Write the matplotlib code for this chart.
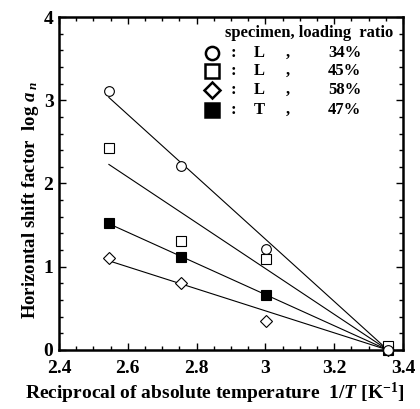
import numpy as np
import matplotlib
matplotlib.use('Agg')
import matplotlib.pyplot as plt
from matplotlib.ticker import MultipleLocator

plt.rcParams['font.family'] = 'Liberation Serif'
plt.rcParams['font.weight'] = 'bold'
plt.rcParams['mathtext.fontset'] = 'custom'
plt.rcParams['mathtext.rm'] = 'Liberation Serif:bold'
plt.rcParams['mathtext.it'] = 'Liberation Serif:italic:bold'
plt.rcParams['mathtext.bf'] = 'Liberation Serif:bold'

# 1/T [1e-3 K^-1] for 120, 90, 60, 25 degC
inv_T = [2.545, 2.755, 3.003, 3.356]
x_ref = 3.356

shift_L34 = [3.11, 2.21, 1.21, 0.0]
shift_L45 = [2.43, 1.31, 1.09, 0.05]
shift_L58 = [1.11, 0.81, 0.35, 0.0]
shift_T47 = [1.52, 1.12, 0.66, 0.0]

series = [
    (shift_L34, 'o', 'white', 'L', '34%'),
    (shift_L45, 's', 'white', 'L', '45%'),
    (shift_L58, 'D', 'white', 'L', '58%'),
    (shift_T47, 's', 'black', 'T', '47%'),
]

fig = plt.figure(figsize=(4.2, 4.09), dpi=100)
ax = fig.add_axes([0.1405, 0.1443, 0.819, 0.8141])

x = np.array(inv_T)
x_line = np.array([inv_T[0], 3.37])
# reversed so the open circle ends up on top at the reference point
for i, (y, mk, fc, spec, ratio) in enumerate(reversed(series)):
    y = np.array(y)
    # straight line through the reference point (x_ref, 0)
    dx = x - x_ref
    slope = np.sum(dx * y) / np.sum(dx * dx)
    ax.plot(x_line, slope * (x_line - x_ref), color='black', lw=0.8, zorder=2)
    ms = 6 if mk == 'D' else 7
    ax.plot(x, y, linestyle='none', marker=mk, ms=ms, mfc=fc, mec='black',
            mew=0.8, zorder=3 + i, clip_on=False)

ax.set_xlim(2.4, 3.4)
ax.set_ylim(0, 4)
ax.xaxis.set_major_locator(MultipleLocator(0.2))
ax.xaxis.set_minor_locator(MultipleLocator(0.05))
ax.yaxis.set_major_locator(MultipleLocator(1))
ax.yaxis.set_minor_locator(MultipleLocator(0.2))
ax.set_xticks([2.4, 2.6, 2.8, 3.0, 3.2, 3.4], ['2.4', '2.6', '2.8', '3', '3.2', '3.4'])
ax.tick_params(which='both', direction='in', top=True, right=True, width=1)
ax.tick_params(which='major', length=5, labelsize=14)
ax.tick_params(axis='x', which='major', pad=7)
ax.tick_params(axis='y', which='major', pad=4)
ax.tick_params(which='minor', length=3)
for s in ax.spines.values():
    s.set_linewidth(1.8)

ax.set_xlabel(r'Reciprocal of absolute temperature  1/$T$ [K$^{\mathbf{-1}}$]',
              fontsize=14, fontweight='bold', labelpad=3)
ax.set_ylabel(r'Horizontal shift factor  log $a_{\ n}$', fontsize=13.5,
              fontweight='bold', labelpad=2)
ax.xaxis.label.set_x(0.453)
ax.yaxis.label.set_y(0.45)

# legend block
ax.text(0.971, 0.952, 'specimen, loading  ratio', transform=ax.transAxes,
        ha='right', va='center', fontsize=12, fontweight='bold')
rows_y = [0.892, 0.838, 0.781, 0.721]
for (y, mk, fc, spec, ratio), ry in zip(series, rows_y):
    ms = 8 if mk == 'D' else 9.5
    ax.plot([0.445], [ry], transform=ax.transAxes, marker=mk, ms=ms, mfc=fc,
            mec='black', mew=1.8, linestyle='none')
    ax.text(0.506, ry, ':', transform=ax.transAxes, ha='center', va='center',
            fontsize=12, fontweight='bold')
    ax.text(0.581, ry, spec, transform=ax.transAxes, ha='center', va='center',
            fontsize=12, fontweight='bold')
    ax.text(0.666, ry, ',', transform=ax.transAxes, ha='center', va='center',
            fontsize=12, fontweight='bold')
    ax.text(0.782, ry, ratio, transform=ax.transAxes, ha='left', va='center',
            fontsize=12, fontweight='bold')

fig.savefig('out.png', dpi=100)
